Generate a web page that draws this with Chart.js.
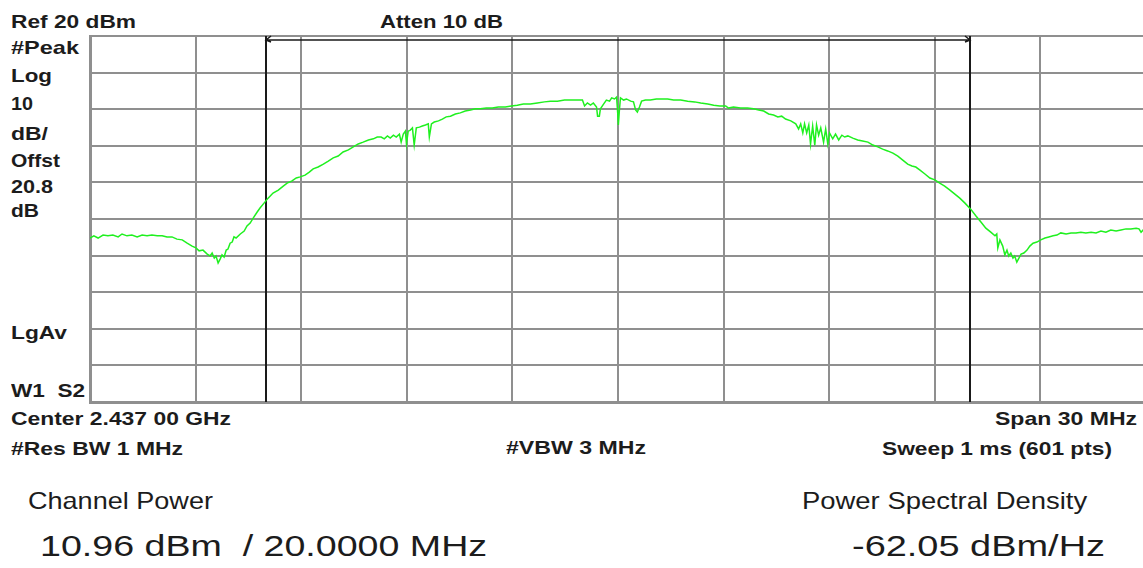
<!DOCTYPE html>
<html>
<head>
<meta charset="utf-8">
<title>Channel Power</title>
<script src="https://cdn.jsdelivr.net/npm/chart.js@4.4.1/dist/chart.umd.min.js"></script>
<style>
  html, body { margin: 0; padding: 0; background: #fff; overflow: hidden; }
  body { width: 1143px; height: 568px; position: relative; }
  #plot { position: absolute; left: 86px; top: 32px; width: 1064px; height: 374px; }
  .lbl { position: absolute; white-space: pre; line-height: 1; color: #1c1c1c; font-family: "Liberation Sans", Arial, sans-serif; transform-origin: 0 0; }
  .b { font-weight: bold; }
</style>
</head>
<body>
<div id="plot"><canvas id="spectrum" width="1064" height="374"></canvas></div>

<script>
// sweep: 2422 - 2452 MHz (center 2.437 GHz, span 30 MHz), ref 20 dBm, 10 dB/div
const startMHz = 2422;
const spanMHz = 30;
const refLevel = 20;
const bottomLevel = -80;

// trace, frequency given as MHz from sweep start
const freqFromStartMHz = [
  0.00, 0.11, 0.23, 0.37, 0.51, 0.65, 0.80, 0.91, 1.05, 1.19, 1.34, 1.48, 1.62, 1.76, 1.91, 2.05,
  2.19, 2.33, 2.47, 2.62, 2.76, 2.90, 3.01, 3.10, 3.21, 3.33, 3.41, 3.47, 3.53, 3.58, 3.64, 3.70,
  3.75, 3.81, 3.87, 3.92, 3.98, 4.04, 4.09, 4.15, 4.27, 4.38, 4.46, 4.55, 4.64, 4.75, 4.83, 4.95,
  5.06, 5.20, 5.35, 5.49, 5.60, 5.74, 5.86, 5.97, 6.11, 6.23, 6.34, 6.48, 6.63, 6.77, 6.91, 7.05,
  7.19, 7.34, 7.48, 7.62, 7.76, 7.91, 8.05, 8.16, 8.27, 8.36, 8.45, 8.53, 8.62, 8.70, 8.79, 8.84,
  8.90, 8.96, 8.99, 9.04, 9.10, 9.16, 9.21, 9.27, 9.36, 9.44, 9.53, 9.61, 9.64, 9.70, 9.78, 9.90,
  10.01, 10.12, 10.24, 10.38, 10.52, 10.66, 10.81, 10.95, 11.09, 11.26, 11.43, 11.60, 11.80, 11.97, 12.14, 12.31,
  12.51, 12.71, 12.91, 13.08, 13.28, 13.48, 13.68, 13.88, 13.99, 14.05, 14.13, 14.22, 14.30, 14.39, 14.42, 14.47,
  14.50, 14.59, 14.67, 14.76, 14.82, 14.90, 14.96, 14.99, 15.01, 15.04, 15.07, 15.16, 15.24, 15.36, 15.44, 15.50,
  15.55, 15.61, 15.67, 15.78, 15.92, 16.09, 16.24, 16.41, 16.58, 16.78, 16.98, 17.18, 17.35, 17.55, 17.72, 17.89,
  18.06, 18.14, 18.28, 18.48, 18.68, 18.85, 19.00, 19.14, 19.28, 19.42, 19.54, 19.65, 19.76, 19.91, 20.05, 20.13,
  20.19, 20.25, 20.30, 20.36, 20.42, 20.47, 20.53, 20.59, 20.64, 20.70, 20.76, 20.84, 20.90, 20.96, 21.01, 21.10,
  21.18, 21.27, 21.36, 21.44, 21.53, 21.67, 21.81, 21.95, 22.10, 22.24, 22.38, 22.52, 22.66, 22.81, 22.95, 23.09,
  23.23, 23.35, 23.46, 23.57, 23.72, 23.86, 24.00, 24.14, 24.28, 24.43, 24.57, 24.71, 24.85, 25.02, 25.17, 25.31,
  25.45, 25.59, 25.71, 25.76, 25.79, 25.85, 25.93, 25.99, 26.05, 26.10, 26.16, 26.22, 26.27, 26.33, 26.39, 26.45,
  26.53, 26.62, 26.70, 26.79, 26.90, 27.01, 27.13, 27.24, 27.36, 27.47, 27.58, 27.73, 27.87, 28.01, 28.15, 28.29,
  28.44, 28.58, 28.72, 28.86, 29.00, 29.15, 29.29, 29.43, 29.57, 29.72, 29.80, 29.86, 29.92, 30.00
];

const levelDbm = [
  -35.2, -34.6, -35.2, -34.4, -34.6, -34.4, -34.9, -34.1, -34.6, -34.4, -34.9, -34.4, -34.6, -34.4, -34.6, -34.6,
  -34.9, -34.9, -35.5, -35.7, -36.6, -37.4, -37.9, -38.7, -38.5, -39.6, -40.1, -39.3, -40.7, -40.1, -42.0, -40.9,
  -39.8, -40.4, -38.5, -38.2, -36.6, -36.3, -34.9, -35.2, -34.1, -33.3, -31.9, -31.1, -29.7, -28.1, -27.0, -25.6,
  -24.3, -22.9, -22.1, -21.0, -20.2, -19.6, -18.8, -18.5, -18.0, -17.2, -16.3, -15.8, -15.0, -14.2, -13.3, -12.8,
  -11.7, -11.1, -10.3, -9.5, -9.0, -8.4, -8.1, -7.6, -7.6, -8.1, -7.3, -7.9, -7.1, -7.6, -6.8, -9.0,
  -6.8, -6.0, -9.5, -6.0, -5.7, -5.1, -9.8, -5.1, -4.9, -4.6, -4.3, -4.0, -7.6, -4.0, -3.5, -3.2,
  -2.7, -2.1, -1.9, -1.3, -1.0, -0.5, -0.2, 0.1, 0.1, 0.3, 0.3, 0.6, 0.6, 0.9, 1.1, 1.4,
  1.4, 1.7, 2.0, 2.2, 2.2, 2.5, 2.5, 2.5, 2.5, 0.9, 1.7, 1.1, 1.7, 0.6, -1.9, -1.9,
  0.1, 1.4, 2.5, 2.2, 3.1, 2.8, 3.3, -0.8, -4.3, -0.2, 3.1, 2.5, 2.8, 2.2, 2.0, -0.2,
  -0.8, 0.6, 2.2, 2.5, 2.5, 2.8, 2.8, 2.8, 2.5, 2.5, 2.2, 2.0, 1.7, 1.4, 1.1, 0.9,
  0.9, 0.3, 0.6, 0.3, 0.3, 0.1, -0.2, -0.5, -1.3, -1.6, -2.1, -1.9, -2.7, -3.2, -4.0, -5.4,
  -4.0, -6.5, -4.0, -6.5, -4.3, -9.5, -4.6, -9.8, -4.3, -7.1, -5.1, -9.0, -5.4, -9.5, -6.5, -8.1,
  -6.8, -8.4, -7.1, -7.6, -7.3, -7.9, -8.4, -8.7, -9.0, -9.8, -10.3, -10.9, -11.4, -12.0, -12.8, -13.9,
  -15.0, -15.5, -15.8, -16.6, -17.7, -18.8, -19.3, -20.2, -21.0, -22.1, -23.2, -24.3, -25.6, -27.3, -29.2, -30.8,
  -32.5, -33.6, -34.6, -34.1, -37.9, -35.7, -37.4, -39.8, -38.5, -40.1, -39.3, -40.7, -40.1, -41.8, -40.7, -39.6,
  -39.3, -38.5, -37.4, -36.6, -36.3, -35.7, -35.2, -34.9, -34.6, -34.4, -33.8, -34.1, -33.8, -33.8, -33.6, -33.8,
  -33.6, -33.8, -33.3, -33.6, -33.0, -33.3, -33.0, -32.7, -32.7, -32.5, -32.7, -33.6, -33.0, -33.3
];

// channel power integration bandwidth edges (20 MHz around center)
const channelEdgesMHz = [5, 25];

// screen annotations: text, left x, baseline y, ink width, font size, bold
const annotations = [
  ["Ref 20 dBm", 11, 28, 125, 19, true],
  ["Atten 10 dB", 380, 28, 123, 19, true],
  ["#Peak", 11, 54, 68, 19, true],
  ["Log", 11, 82, 41, 19, true],
  ["10", 11, 110, 22, 19, true],
  ["dB/", 11, 140, 37, 19, true],
  ["Offst", 11, 167, 49, 19, true],
  ["20.8", 11, 193, 42, 19, true],
  ["dB", 11, 217, 28, 19, true],
  ["LgAv", 11, 339, 56, 19, true],
  ["W1  S2", 11, 397, 74, 19, true],
  ["Center 2.437 00 GHz", 11, 425, 220, 19, true],
  ["Span 30 MHz", 995, 425, 142, 19, true],
  ["#Res BW 1 MHz", 11, 455, 172, 19, true],
  ["#VBW 3 MHz", 506, 454, 140, 19, true],
  ["Sweep 1 ms (601 pts)", 882, 455, 230, 19, true],
  ["Channel Power", 28, 509, 185, 24, false],
  ["Power Spectral Density", 802, 509, 285, 24, false],
  ["10.96 dBm  / 20.0000 MHz", 40, 557, 447, 29, false],
  ["-62.05 dBm/Hz", 852, 557, 253, 29, false]
];

annotations.forEach(([text, x, base, w, size, bold]) => {
  const el = document.createElement("div");
  el.className = "lbl" + (bold ? " b" : "");
  el.textContent = text;
  el.style.fontSize = size + "px";
  el.style.left = x + "px";
  el.style.top = (base - 0.8465 * size) + "px";
  document.body.appendChild(el);
  // the screen capture is stretched sideways, so stretch the text the same way
  const natural = el.getBoundingClientRect().width;
  el.style.transform = "scaleX(" + (w / natural).toFixed(3) + ")";
});

const markerPlugin = {
  id: "channelMarkers",
  beforeDatasetsDraw(chart) {
    const { ctx, chartArea, scales } = chart;
    const xa = scales.x.getPixelForValue(channelEdgesMHz[0]);
    const xb = scales.x.getPixelForValue(channelEdgesMHz[1]);
    const yArrow = chartArea.top + 4;
    ctx.save();
    ctx.strokeStyle = "#1a1a1a";
    ctx.lineWidth = 2;
    ctx.beginPath();
    ctx.moveTo(xa, chartArea.top);
    ctx.lineTo(xa, chartArea.bottom);
    ctx.moveTo(xb, chartArea.top);
    ctx.lineTo(xb, chartArea.bottom);
    ctx.stroke();
    ctx.lineWidth = 1.5;
    ctx.beginPath();
    ctx.moveTo(xa, yArrow);
    ctx.lineTo(xb, yArrow);
    ctx.moveTo(xa + 5, yArrow - 4);
    ctx.lineTo(xa, yArrow);
    ctx.lineTo(xa + 5, yArrow + 2);
    ctx.moveTo(xb - 5, yArrow - 4);
    ctx.lineTo(xb, yArrow);
    ctx.lineTo(xb - 5, yArrow + 2);
    ctx.stroke();
    ctx.restore();
  }
};

const gridStyle = { color: "#8f8f8f", lineWidth: 2, drawTicks: false };

new Chart(document.getElementById("spectrum").getContext("2d"), {
  type: "line",
  data: {
    datasets: [
      {
        label: "Trace 1",
        data: freqFromStartMHz.map((f, i) => ({ x: f, y: levelDbm[i] })),
        borderColor: "#1ff01f",
        borderWidth: 1.5,
        pointRadius: 0,
        tension: 0,
        fill: false
      }
    ]
  },
  options: {
    responsive: false,
    animation: false,
    layout: { padding: 4 },
    plugins: { legend: { display: false }, tooltip: { enabled: false } },
    scales: {
      x: {
        type: "linear",
        min: 0,
        max: spanMHz,
        ticks: { display: false, stepSize: 3 },
        grid: gridStyle,
        border: { display: true, color: "#8f8f8f", width: 3 }
      },
      y: {
        min: bottomLevel,
        max: refLevel,
        ticks: { display: false, stepSize: 10 },
        grid: gridStyle,
        border: { display: true, color: "#8f8f8f", width: 3 }
      }
    }
  },
  plugins: [markerPlugin]
});
</script>
</body>
</html>
